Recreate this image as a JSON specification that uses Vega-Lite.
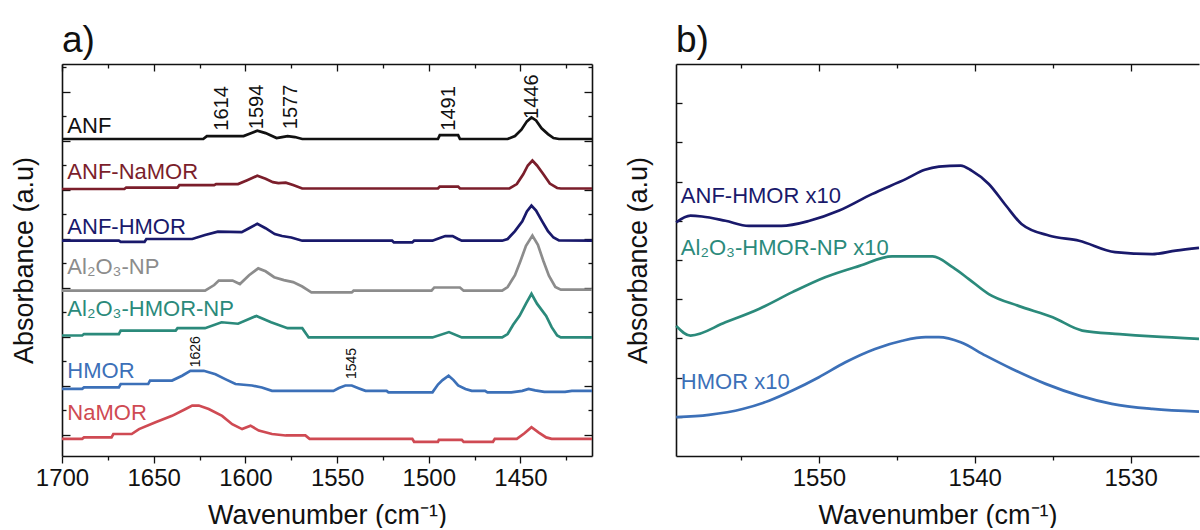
{
  "$schema": "https://vega.github.io/schema/vega-lite/v6.json",
  "padding": {"left": 10, "top": 22, "right": 0, "bottom": 0},
  "background": "white",
  "config": {
    "view": {"stroke": null},
    "font": "Liberation Sans",
    "axis": {"grid": false, "domainColor": "#111111", "domainWidth": 1.6, "tickColor": "#111111", "tickWidth": 1.3, "labelColor": "#111111", "titleColor": "#111111", "titleFontWeight": "normal", "labelFont": "Liberation Sans", "titleFont": "Liberation Sans", "labelFlush": false, "labelOverlap": false},
    "title": {"font": "Liberation Sans", "fontWeight": "normal", "color": "#111111", "anchor": "start", "frame": "group", "fontSize": 37, "offset": 3}
  },
  "spacing": 26,
  "resolve": {"scale": {"color": "independent"}},
  "datasets": {
    "specA": [
      {"s":"ANF","w":1700,"a":60.4},{"s":"ANF","w":1623,"a":60.4},{"s":"ANF","w":1621,"a":61.0},{"s":"ANF","w":1601,"a":61.0},{"s":"ANF","w":1597,"a":61.6},{"s":"ANF","w":1593.5,"a":62.1},{"s":"ANF","w":1589,"a":61.6},{"s":"ANF","w":1583,"a":60.6},{"s":"ANF","w":1580,"a":60.8},{"s":"ANF","w":1577,"a":61.0},{"s":"ANF","w":1573,"a":60.8},{"s":"ANF","w":1569,"a":60.4},{"s":"ANF","w":1495,"a":60.4},{"s":"ANF","w":1494,"a":61.2},{"s":"ANF","w":1484,"a":61.2},{"s":"ANF","w":1483,"a":60.4},{"s":"ANF","w":1457,"a":60.4},{"s":"ANF","w":1453,"a":61.0},{"s":"ANF","w":1449.5,"a":62.3},{"s":"ANF","w":1446.5,"a":64.0},{"s":"ANF","w":1444,"a":64.8},{"s":"ANF","w":1441.5,"a":64.2},{"s":"ANF","w":1438.5,"a":62.6},{"s":"ANF","w":1435,"a":61.4},{"s":"ANF","w":1432,"a":60.6},{"s":"ANF","w":1429,"a":60.4},{"s":"ANF","w":1411,"a":60.4},
      {"s":"ANF-NaMOR","w":1700,"a":50.2},{"s":"ANF-NaMOR","w":1666,"a":50.2},{"s":"ANF-NaMOR","w":1665,"a":50.5},{"s":"ANF-NaMOR","w":1637,"a":50.5},{"s":"ANF-NaMOR","w":1636,"a":51.0},{"s":"ANF-NaMOR","w":1617,"a":51.0},{"s":"ANF-NaMOR","w":1616,"a":51.2},{"s":"ANF-NaMOR","w":1604,"a":51.2},{"s":"ANF-NaMOR","w":1599,"a":52.0},{"s":"ANF-NaMOR","w":1593.5,"a":52.9},{"s":"ANF-NaMOR","w":1589,"a":52.3},{"s":"ANF-NaMOR","w":1585,"a":51.6},{"s":"ANF-NaMOR","w":1582,"a":51.4},{"s":"ANF-NaMOR","w":1578,"a":51.5},{"s":"ANF-NaMOR","w":1574,"a":51.0},{"s":"ANF-NaMOR","w":1569,"a":50.3},{"s":"ANF-NaMOR","w":1495,"a":50.3},{"s":"ANF-NaMOR","w":1494,"a":50.7},{"s":"ANF-NaMOR","w":1484,"a":50.7},{"s":"ANF-NaMOR","w":1483,"a":50.3},{"s":"ANF-NaMOR","w":1456,"a":50.3},{"s":"ANF-NaMOR","w":1452,"a":51.2},{"s":"ANF-NaMOR","w":1448.5,"a":53.2},{"s":"ANF-NaMOR","w":1446,"a":55.0},{"s":"ANF-NaMOR","w":1443.5,"a":56.0},{"s":"ANF-NaMOR","w":1441,"a":55.0},{"s":"ANF-NaMOR","w":1437.5,"a":53.2},{"s":"ANF-NaMOR","w":1434,"a":51.3},{"s":"ANF-NaMOR","w":1430,"a":50.4},{"s":"ANF-NaMOR","w":1428,"a":50.3},{"s":"ANF-NaMOR","w":1411,"a":50.3},
      {"s":"ANF-HMOR","w":1700,"a":39.65},{"s":"ANF-HMOR","w":1669,"a":39.65},{"s":"ANF-HMOR","w":1668,"a":39.4},{"s":"ANF-HMOR","w":1655,"a":39.4},{"s":"ANF-HMOR","w":1654,"a":40.0},{"s":"ANF-HMOR","w":1629,"a":40.0},{"s":"ANF-HMOR","w":1622,"a":40.8},{"s":"ANF-HMOR","w":1615,"a":41.5},{"s":"ANF-HMOR","w":1602,"a":41.4},{"s":"ANF-HMOR","w":1598,"a":42.2},{"s":"ANF-HMOR","w":1593.5,"a":43.1},{"s":"ANF-HMOR","w":1589,"a":42.2},{"s":"ANF-HMOR","w":1584,"a":41.0},{"s":"ANF-HMOR","w":1580,"a":40.6},{"s":"ANF-HMOR","w":1575,"a":40.3},{"s":"ANF-HMOR","w":1569,"a":39.65},{"s":"ANF-HMOR","w":1520,"a":39.65},{"s":"ANF-HMOR","w":1519,"a":39.3},{"s":"ANF-HMOR","w":1509,"a":39.3},{"s":"ANF-HMOR","w":1508,"a":39.65},{"s":"ANF-HMOR","w":1498,"a":39.65},{"s":"ANF-HMOR","w":1494,"a":40.2},{"s":"ANF-HMOR","w":1491,"a":40.6},{"s":"ANF-HMOR","w":1487,"a":40.6},{"s":"ANF-HMOR","w":1484,"a":40.0},{"s":"ANF-HMOR","w":1482,"a":39.65},{"s":"ANF-HMOR","w":1460,"a":39.65},{"s":"ANF-HMOR","w":1457,"a":40.0},{"s":"ANF-HMOR","w":1453,"a":41.6},{"s":"ANF-HMOR","w":1449,"a":43.6},{"s":"ANF-HMOR","w":1446.5,"a":45.6},{"s":"ANF-HMOR","w":1444,"a":46.8},{"s":"ANF-HMOR","w":1441.5,"a":45.8},{"s":"ANF-HMOR","w":1438,"a":43.5},{"s":"ANF-HMOR","w":1435,"a":41.6},{"s":"ANF-HMOR","w":1432,"a":40.3},{"s":"ANF-HMOR","w":1429,"a":39.7},{"s":"ANF-HMOR","w":1411,"a":39.65},
      {"s":"Al2O3-NP","w":1700,"a":29.45},{"s":"Al2O3-NP","w":1622,"a":29.45},{"s":"Al2O3-NP","w":1617,"a":30.6},{"s":"Al2O3-NP","w":1614.5,"a":31.5},{"s":"Al2O3-NP","w":1607,"a":31.5},{"s":"Al2O3-NP","w":1603,"a":30.8},{"s":"Al2O3-NP","w":1598,"a":32.6},{"s":"Al2O3-NP","w":1593,"a":34.0},{"s":"Al2O3-NP","w":1589,"a":33.4},{"s":"Al2O3-NP","w":1584.3,"a":32.2},{"s":"Al2O3-NP","w":1579,"a":31.6},{"s":"Al2O3-NP","w":1574,"a":31.2},{"s":"Al2O3-NP","w":1569,"a":30.3},{"s":"Al2O3-NP","w":1565.5,"a":29.45},{"s":"Al2O3-NP","w":1564,"a":29.1},{"s":"Al2O3-NP","w":1542,"a":29.1},{"s":"Al2O3-NP","w":1541,"a":29.45},{"s":"Al2O3-NP","w":1498.5,"a":29.45},{"s":"Al2O3-NP","w":1497,"a":30.1},{"s":"Al2O3-NP","w":1483,"a":30.1},{"s":"Al2O3-NP","w":1481,"a":29.45},{"s":"Al2O3-NP","w":1460,"a":29.45},{"s":"Al2O3-NP","w":1457,"a":30.2},{"s":"Al2O3-NP","w":1453,"a":32.6},{"s":"Al2O3-NP","w":1450,"a":35.5},{"s":"Al2O3-NP","w":1447,"a":38.6},{"s":"Al2O3-NP","w":1443.5,"a":40.7},{"s":"Al2O3-NP","w":1440.5,"a":38.8},{"s":"Al2O3-NP","w":1437.5,"a":35.5},{"s":"Al2O3-NP","w":1434.5,"a":32.5},{"s":"Al2O3-NP","w":1431,"a":30.2},{"s":"Al2O3-NP","w":1428,"a":29.65},{"s":"Al2O3-NP","w":1411,"a":29.65},
      {"s":"Al2O3-HMOR-NP","w":1700,"a":20.3},{"s":"Al2O3-HMOR-NP","w":1689,"a":20.3},{"s":"Al2O3-HMOR-NP","w":1688,"a":20.6},{"s":"Al2O3-HMOR-NP","w":1669,"a":20.6},{"s":"Al2O3-HMOR-NP","w":1668,"a":21.3},{"s":"Al2O3-HMOR-NP","w":1638,"a":21.3},{"s":"Al2O3-HMOR-NP","w":1637,"a":21.8},{"s":"Al2O3-HMOR-NP","w":1622,"a":21.8},{"s":"Al2O3-HMOR-NP","w":1613,"a":23.0},{"s":"Al2O3-HMOR-NP","w":1604,"a":22.7},{"s":"Al2O3-HMOR-NP","w":1594,"a":24.3},{"s":"Al2O3-HMOR-NP","w":1586,"a":23.0},{"s":"Al2O3-HMOR-NP","w":1577,"a":21.8},{"s":"Al2O3-HMOR-NP","w":1569,"a":21.8},{"s":"Al2O3-HMOR-NP","w":1565.5,"a":19.9},{"s":"Al2O3-HMOR-NP","w":1498,"a":19.9},{"s":"Al2O3-HMOR-NP","w":1489,"a":21.0},{"s":"Al2O3-HMOR-NP","w":1482,"a":19.9},{"s":"Al2O3-HMOR-NP","w":1460,"a":19.9},{"s":"Al2O3-HMOR-NP","w":1457,"a":20.6},{"s":"Al2O3-HMOR-NP","w":1454,"a":22.5},{"s":"Al2O3-HMOR-NP","w":1450.5,"a":24.3},{"s":"Al2O3-HMOR-NP","w":1447,"a":26.8},{"s":"Al2O3-HMOR-NP","w":1444,"a":28.8},{"s":"Al2O3-HMOR-NP","w":1441,"a":26.8},{"s":"Al2O3-HMOR-NP","w":1436,"a":24.3},{"s":"Al2O3-HMOR-NP","w":1433,"a":22.0},{"s":"Al2O3-HMOR-NP","w":1430,"a":20.3},{"s":"Al2O3-HMOR-NP","w":1428,"a":19.9},{"s":"Al2O3-HMOR-NP","w":1411,"a":19.9},
      {"s":"HMOR","w":1700,"a":9.4},{"s":"HMOR","w":1689,"a":9.4},{"s":"HMOR","w":1688,"a":9.7},{"s":"HMOR","w":1669,"a":9.7},{"s":"HMOR","w":1668,"a":10.4},{"s":"HMOR","w":1653,"a":10.4},{"s":"HMOR","w":1652,"a":11.1},{"s":"HMOR","w":1640,"a":11.1},{"s":"HMOR","w":1634.5,"a":12.1},{"s":"HMOR","w":1630,"a":13.1},{"s":"HMOR","w":1622.7,"a":13.1},{"s":"HMOR","w":1616.3,"a":12.4},{"s":"HMOR","w":1611,"a":11.4},{"s":"HMOR","w":1605.4,"a":10.4},{"s":"HMOR","w":1596.4,"a":10.1},{"s":"HMOR","w":1591,"a":9.7},{"s":"HMOR","w":1585.5,"a":9.0},{"s":"HMOR","w":1552,"a":9.0},{"s":"HMOR","w":1549,"a":9.6},{"s":"HMOR","w":1545.5,"a":10.1},{"s":"HMOR","w":1542,"a":10.1},{"s":"HMOR","w":1538,"a":9.5},{"s":"HMOR","w":1534.5,"a":9.0},{"s":"HMOR","w":1523,"a":9.0},{"s":"HMOR","w":1522,"a":8.7},{"s":"HMOR","w":1498,"a":8.7},{"s":"HMOR","w":1495,"a":10.3},{"s":"HMOR","w":1492.5,"a":11.2},{"s":"HMOR","w":1489.2,"a":12.1},{"s":"HMOR","w":1486.5,"a":11.2},{"s":"HMOR","w":1484,"a":10.1},{"s":"HMOR","w":1480,"a":9.4},{"s":"HMOR","w":1476.6,"a":9.0},{"s":"HMOR","w":1469.3,"a":9.0},{"s":"HMOR","w":1468,"a":8.7},{"s":"HMOR","w":1455,"a":8.7},{"s":"HMOR","w":1449,"a":9.0},{"s":"HMOR","w":1445.6,"a":9.4},{"s":"HMOR","w":1442,"a":9.1},{"s":"HMOR","w":1437,"a":8.8},{"s":"HMOR","w":1425.7,"a":8.8},{"s":"HMOR","w":1422,"a":9.0},{"s":"HMOR","w":1411,"a":9.0},
      {"s":"NaMOR","w":1700,"a":-0.8},{"s":"NaMOR","w":1689,"a":-0.8},{"s":"NaMOR","w":1688,"a":-0.5},{"s":"NaMOR","w":1673,"a":-0.5},{"s":"NaMOR","w":1672,"a":0.2},{"s":"NaMOR","w":1662,"a":0.2},{"s":"NaMOR","w":1658,"a":1.2},{"s":"NaMOR","w":1649,"a":2.6},{"s":"NaMOR","w":1640,"a":3.9},{"s":"NaMOR","w":1632.6,"a":5.3},{"s":"NaMOR","w":1629,"a":6.0},{"s":"NaMOR","w":1625.4,"a":6.0},{"s":"NaMOR","w":1620,"a":5.3},{"s":"NaMOR","w":1612.7,"a":3.9},{"s":"NaMOR","w":1607.2,"a":2.2},{"s":"NaMOR","w":1601.8,"a":1.2},{"s":"NaMOR","w":1597.2,"a":1.9},{"s":"NaMOR","w":1592.7,"a":0.9},{"s":"NaMOR","w":1585.5,"a":0.2},{"s":"NaMOR","w":1578,"a":-0.1},{"s":"NaMOR","w":1567.3,"a":-0.1},{"s":"NaMOR","w":1565,"a":-0.8},{"s":"NaMOR","w":1509,"a":-0.8},{"s":"NaMOR","w":1508,"a":-1.4},{"s":"NaMOR","w":1495,"a":-1.4},{"s":"NaMOR","w":1494.5,"a":-1.0},{"s":"NaMOR","w":1482,"a":-1.0},{"s":"NaMOR","w":1481,"a":-1.4},{"s":"NaMOR","w":1465,"a":-1.4},{"s":"NaMOR","w":1464,"a":-0.8},{"s":"NaMOR","w":1452,"a":-0.8},{"s":"NaMOR","w":1448,"a":0.3},{"s":"NaMOR","w":1444,"a":1.6},{"s":"NaMOR","w":1440,"a":0.5},{"s":"NaMOR","w":1436,"a":-0.5},{"s":"NaMOR","w":1433,"a":-0.8},{"s":"NaMOR","w":1411,"a":-0.8}
    ],
    "labelsA": [
      {"s":"ANF","label":"ANF","w":1697.1,"a":63.0},
      {"s":"ANF-NaMOR","label":"ANF-NaMOR","w":1697.1,"a":53.6},
      {"s":"ANF-HMOR","label":"ANF-HMOR","w":1697.1,"a":42.4},
      {"s":"Al2O3-NP","label":"Al₂O₃-NP","w":1697.1,"a":34.2},
      {"s":"Al2O3-HMOR-NP","label":"Al₂O₃-HMOR-NP","w":1697.1,"a":25.7},
      {"s":"HMOR","label":"HMOR","w":1697.1,"a":13.0},
      {"s":"NaMOR","label":"NaMOR","w":1697.1,"a":4.5}
    ],
    "peaksBig": [
      {"t":"1614","w":1612.7,"a":62.1},{"t":"1594","w":1593.6,"a":62.4},{"t":"1577","w":1575.4,"a":62.4},{"t":"1491","w":1489.2,"a":62.1},{"t":"1446","w":1443.9,"a":64.5}
    ],
    "peaksSmall": [
      {"t":"1626","w":1627.2,"a":13.8},{"t":"1545","w":1541.9,"a":11.4}
    ],
    "specB": [
      {"s":"ANF-HMOR x10","w":1559.16,"a":5.96},{"s":"ANF-HMOR x10","w":1558.24,"a":6.13},{"s":"ANF-HMOR x10","w":1557.5,"a":6.11},{"s":"ANF-HMOR x10","w":1556,"a":6.0},{"s":"ANF-HMOR x10","w":1554.5,"a":5.87},{"s":"ANF-HMOR x10","w":1552.4,"a":5.87},{"s":"ANF-HMOR x10","w":1550.6,"a":6.0},{"s":"ANF-HMOR x10","w":1548.7,"a":6.26},{"s":"ANF-HMOR x10","w":1546.6,"a":6.68},{"s":"ANF-HMOR x10","w":1544.4,"a":7.07},{"s":"ANF-HMOR x10","w":1543.2,"a":7.3},{"s":"ANF-HMOR x10","w":1542.3,"a":7.38},{"s":"ANF-HMOR x10","w":1540.9,"a":7.41},{"s":"ANF-HMOR x10","w":1540.2,"a":7.28},{"s":"ANF-HMOR x10","w":1539.1,"a":6.94},{"s":"ANF-HMOR x10","w":1538,"a":6.39},{"s":"ANF-HMOR x10","w":1537,"a":5.92},{"s":"ANF-HMOR x10","w":1535.2,"a":5.62},{"s":"ANF-HMOR x10","w":1533.3,"a":5.49},{"s":"ANF-HMOR x10","w":1531,"a":5.2},{"s":"ANF-HMOR x10","w":1528.6,"a":5.15},{"s":"ANF-HMOR x10","w":1527.1,"a":5.24},{"s":"ANF-HMOR x10","w":1525.61,"a":5.31},
      {"s":"Al2O3-HMOR-NP x10","w":1559.16,"a":3.32},{"s":"Al2O3-HMOR-NP x10","w":1558.24,"a":3.07},{"s":"Al2O3-HMOR-NP x10","w":1556,"a":3.41},{"s":"Al2O3-HMOR-NP x10","w":1553.85,"a":3.75},{"s":"Al2O3-HMOR-NP x10","w":1551.7,"a":4.18},{"s":"Al2O3-HMOR-NP x10","w":1549.6,"a":4.56},{"s":"Al2O3-HMOR-NP x10","w":1547.4,"a":4.85},{"s":"Al2O3-HMOR-NP x10","w":1545.3,"a":5.09},{"s":"Al2O3-HMOR-NP x10","w":1542.7,"a":5.09},{"s":"Al2O3-HMOR-NP x10","w":1541.4,"a":4.81},{"s":"Al2O3-HMOR-NP x10","w":1540.4,"a":4.52},{"s":"Al2O3-HMOR-NP x10","w":1539.1,"a":4.13},{"s":"Al2O3-HMOR-NP x10","w":1537.2,"a":3.83},{"s":"Al2O3-HMOR-NP x10","w":1535,"a":3.54},{"s":"Al2O3-HMOR-NP x10","w":1533.1,"a":3.2},{"s":"Al2O3-HMOR-NP x10","w":1530.7,"a":3.11},{"s":"Al2O3-HMOR-NP x10","w":1528.6,"a":3.05},{"s":"Al2O3-HMOR-NP x10","w":1525.61,"a":2.99},
      {"s":"HMOR x10","w":1559.16,"a":0.99},{"s":"HMOR x10","w":1557.06,"a":1.05},{"s":"HMOR x10","w":1554.9,"a":1.2},{"s":"HMOR x10","w":1553.2,"a":1.41},{"s":"HMOR x10","w":1551.7,"a":1.67},{"s":"HMOR x10","w":1550,"a":2.01},{"s":"HMOR x10","w":1548.3,"a":2.39},{"s":"HMOR x10","w":1546.4,"a":2.73},{"s":"HMOR x10","w":1544.65,"a":2.94},{"s":"HMOR x10","w":1543.15,"a":3.03},{"s":"HMOR x10","w":1542.3,"a":3.03},{"s":"HMOR x10","w":1540.9,"a":2.9},{"s":"HMOR x10","w":1539.3,"a":2.56},{"s":"HMOR x10","w":1537.6,"a":2.22},{"s":"HMOR x10","w":1535.45,"a":1.84},{"s":"HMOR x10","w":1533.3,"a":1.54},{"s":"HMOR x10","w":1531.2,"a":1.33},{"s":"HMOR x10","w":1528.6,"a":1.2},{"s":"HMOR x10","w":1525.61,"a":1.13}
    ],
    "labelsB": [
      {"s":"ANF-HMOR x10","label":"ANF-HMOR x10","w":1558.86,"a":6.64},
      {"s":"Al2O3-HMOR-NP x10","label":"Al₂O₃-HMOR-NP x10","w":1558.86,"a":5.3},
      {"s":"HMOR x10","label":"HMOR x10","w":1558.86,"a":1.89}
    ]
  },
  "hconcat": [
    {
      "width": 530,
      "height": 392,
      "title": {"text": "a)"},
      "layer": [
        {
          "data": {"name": "specA"},
          "mark": {"type": "line", "strokeWidth": 2.7},
          "encoding": {
            "x": {"field": "w", "type": "quantitative",
              "scale": {"domain": [1411, 1700], "reverse": true, "nice": false, "zero": false},
              "axis": {"orient": "bottom", "values": [1700,1675,1650,1625,1600,1575,1550,1525,1500,1475,1450,1425], "format": "d",
                "labelExpr": "datum.value % 50 == 0 ? datum.label : ''",
                "tickSize": {"condition": {"test": "datum.value % 50 == 0", "value": 7}, "value": 4},
                "labelFontSize": 24, "labelPadding": 3, "title": "Wavenumber (cm⁻¹)", "titleFontSize": 27, "titlePadding": 12}},
            "y": {"field": "a", "type": "quantitative",
              "scale": {"domain": [-4.29, 75.71], "nice": false, "zero": false},
              "axis": {"orient": "left", "values": [0,5,10,15,20,25,30,35,40,45,50,55,60,65,70,75], "labels": false,
                "tickSize": {"condition": {"test": "datum.value % 10 == 0", "value": -8}, "value": -4},
                "title": "Absorbance (a.u)", "titleFontSize": 27, "titlePadding": 23}},
            "color": {"field": "s", "type": "nominal", "legend": null,
              "scale": {"domain": ["ANF","ANF-NaMOR","ANF-HMOR","Al2O3-NP","Al2O3-HMOR-NP","HMOR","NaMOR"],
                "range": ["#111111","#7b1e2b","#19196b","#8c8c8c","#2b8a7b","#3c70b8","#cf4a53"]}}
          }
        },
        {
          "data": {"name": "labelsA"},
          "mark": {"type": "text", "align": "left", "baseline": "middle", "fontSize": 22},
          "encoding": {
            "x": {"field": "w", "type": "quantitative",
              "axis": {"orient": "top", "values": [1700,1675,1650,1625,1600,1575,1550,1525,1500,1475,1450,1425], "labels": false, "title": null,
                "tickSize": {"condition": {"test": "datum.value % 50 == 0", "value": -7}, "value": -4}}},
            "y": {"field": "a", "type": "quantitative",
              "axis": {"orient": "right", "values": [0,5,10,15,20,25,30,35,40,45,50,55,60,65,70,75], "labels": false, "title": null,
                "tickSize": {"condition": {"test": "datum.value % 10 == 0", "value": -8}, "value": -4}}},
            "text": {"field": "label"},
            "color": {"field": "s", "type": "nominal", "legend": null}
          }
        },
        {
          "data": {"name": "peaksBig"},
          "mark": {"type": "text", "align": "left", "baseline": "middle", "angle": 270, "fontSize": 20, "color": "#111111"},
          "encoding": {
            "x": {"field": "w", "type": "quantitative", "axis": null},
            "y": {"field": "a", "type": "quantitative", "axis": null},
            "text": {"field": "t"}
          }
        },
        {
          "data": {"name": "peaksSmall"},
          "mark": {"type": "text", "align": "left", "baseline": "middle", "angle": 270, "fontSize": 14, "color": "#111111"},
          "encoding": {
            "x": {"field": "w", "type": "quantitative", "axis": null},
            "y": {"field": "a", "type": "quantitative", "axis": null},
            "text": {"field": "t"}
          }
        }
      ],
      "resolve": {"axis": {"x": "independent", "y": "independent"}}
    },
    {
      "width": 523,
      "height": 392,
      "title": {"text": "b)"},
      "layer": [
        {
          "data": {"name": "specB"},
          "mark": {"type": "line", "strokeWidth": 2.7, "interpolate": "monotone"},
          "encoding": {
            "x": {"field": "w", "type": "quantitative",
              "scale": {"domain": [1525.61, 1559.17], "reverse": true, "nice": false, "zero": false},
              "axis": {"orient": "bottom", "values": [1555,1550,1545,1540,1535,1530], "format": "d",
                "labelExpr": "datum.value % 10 == 0 ? datum.label : ''",
                "tickSize": {"condition": {"test": "datum.value % 10 == 0", "value": 7}, "value": 4},
                "labelFontSize": 24, "labelPadding": 3, "title": "Wavenumber (cm⁻¹)", "titleFontSize": 27, "titlePadding": 12}},
            "y": {"field": "a", "type": "quantitative",
              "scale": {"domain": [0, 10], "nice": false, "zero": false},
              "axis": {"orient": "left", "values": [1,2,3,4,5,6,7,8,9], "labels": false, "tickSize": -6,
                "title": "Absorbance (a.u)", "titleFontSize": 27, "titlePadding": 23}},
            "color": {"field": "s", "type": "nominal", "legend": null,
              "scale": {"domain": ["ANF-HMOR x10","Al2O3-HMOR-NP x10","HMOR x10"],
                "range": ["#19196b","#2b8a7b","#3c70b8"]}}
          }
        },
        {
          "data": {"name": "labelsB"},
          "mark": {"type": "text", "align": "left", "baseline": "middle", "fontSize": 22},
          "encoding": {
            "x": {"field": "w", "type": "quantitative",
              "axis": {"orient": "top", "values": [1555,1550,1545,1540,1535,1530], "labels": false, "title": null,
                "tickSize": {"condition": {"test": "datum.value % 10 == 0", "value": -7}, "value": -4}}},
            "y": {"field": "a", "type": "quantitative", "axis": null},
            "text": {"field": "label"},
            "color": {"field": "s", "type": "nominal", "legend": null}
          }
        }
      ],
      "resolve": {"axis": {"x": "independent", "y": "independent"}}
    }
  ]
}
